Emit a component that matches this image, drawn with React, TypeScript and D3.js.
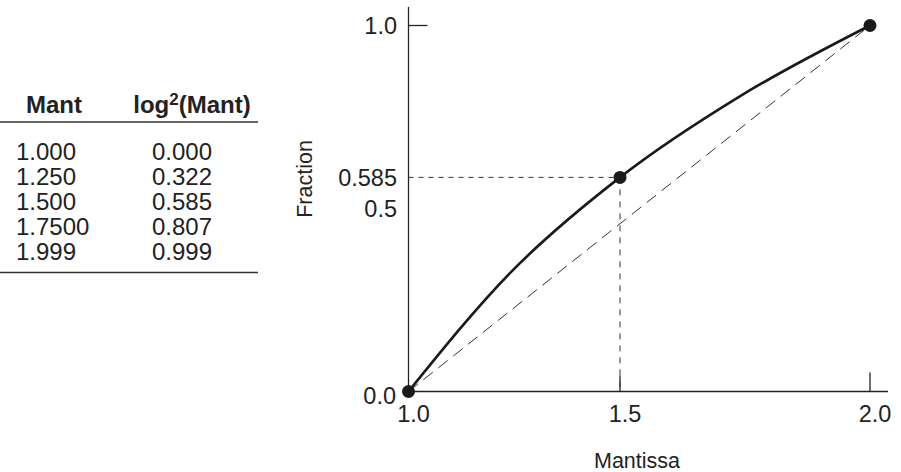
import React from "react";
import * as d3 from "d3";

const mantValues = [1.0, 1.25, 1.5, 1.75, 1.999];
const mantLabels = ["1.000", "1.250", "1.500", "1.7500", "1.999"];
const logValues = [0.0, 0.322, 0.585, 0.807, 0.999];
const logLabels = ["0.000", "0.322", "0.585", "0.807", "0.999"];
const tableHeaders = ["Mant", "log", "2", "(Mant)"];

const dotX = [1.0, 1.5, 2.0];
const dotY = [0.0, 0.585, 1.0];

const xTicks = [1.0, 1.5, 2.0];
const xTickLabels = ["1.0", "1.5", "2.0"];
const yTicks = [0.0, 0.5, 0.585, 1.0];
const yTickLabels = ["0.0", "0.5", "0.585", "1.0"];

const xTitle = "Mantissa";
const yTitle = "Fraction";

const FONT = "'Liberation Sans', Arial, Helvetica, sans-serif";

export default function App() {
  const W = 901;
  const H = 472;
  // base linear scale, with a smooth warp (the drawing's x-axis is slightly non-linear)
  const xBase = d3.scaleLinear().domain([1.0, 2.0]).range([408.5, 870]);
  const warpK = 0.1668;
  const x = (m: number) => xBase(m + warpK * (m - 1) * (m - 2));
  const y = d3.scaleLinear().domain([0, 1]).range([391.5, 25.5]);

  const curvePts: [number, number][] = mantValues.map((m, i) => [
    x(m),
    y(logValues[i]),
  ]);
  curvePts[curvePts.length - 1] = [x(dotX[2]), y(dotY[2])];
  const line = d3.line().curve(d3.curveMonotoneX);
  const curvePath = line(curvePts) || "";

  const xAxisY = y(0);
  const yAxisX = x(1.0);
  const tickFont = 23.5;
  const tableFont = 24;

  return (
    <svg
      width={W}
      height={H}
      style={{ position: "absolute", left: 0, top: 0, background: "#fff" }}
      fontFamily={FONT}
    >
      {/* Table */}
      <g>
        <text x={54} y={113} fontSize={tableFont} fontWeight="bold" textAnchor="middle" fill="#222">
          {tableHeaders[0]}
        </text>
        <text x={192} y={113} fontSize={tableFont} fontWeight="bold" textAnchor="middle" fill="#222">
          {tableHeaders[1]}
          <tspan fontSize={17} dy={-8}>{tableHeaders[2]}</tspan>
          <tspan dy={8}>{tableHeaders[3]}</tspan>
        </text>
        <line x1={0} x2={258} y1={122} y2={122} stroke="#333" strokeWidth={1.6} />
        {mantLabels.map((m, i) => (
          <text key={"m" + i} x={16} y={160 + i * 25} fontSize={tableFont} fill="#222">
            {m}
          </text>
        ))}
        {logLabels.map((l, i) => (
          <text key={"l" + i} x={182} y={160 + i * 25} fontSize={tableFont} textAnchor="middle" fill="#222">
            {l}
          </text>
        ))}
        <line x1={0} x2={258} y1={272.5} y2={272.5} stroke="#333" strokeWidth={1.6} />
      </g>

      {/* Axes */}
      <line x1={yAxisX} x2={yAxisX} y1={7} y2={xAxisY} stroke="#222" strokeWidth={1.3} />
      <line x1={yAxisX} x2={888} y1={xAxisY} y2={xAxisY} stroke="#222" strokeWidth={1.3} />
      <line x1={yAxisX} x2={yAxisX + 19} y1={y(1)} y2={y(1)} stroke="#222" strokeWidth={1.3} />
      {xTicks.slice(1).map((t, i) => (
        <line key={"xt" + i} x1={x(t)} x2={x(t)} y1={xAxisY} y2={xAxisY - (i === 0 ? 16 : 19)} stroke="#222" strokeWidth={1.3} />
      ))}

      {/* reference lines */}
      <line
        x1={yAxisX}
        x2={x(dotX[1])}
        y1={y(dotY[1])}
        y2={y(dotY[1])}
        stroke="#333"
        strokeWidth={1}
        strokeDasharray="5,5"
      />
      <line
        x1={x(dotX[1])}
        x2={x(dotX[1])}
        y1={y(dotY[1])}
        y2={xAxisY}
        stroke="#333"
        strokeWidth={1}
        strokeDasharray="6,6"
      />
      <line
        x1={x(dotX[0])}
        y1={y(dotY[0])}
        x2={x(dotX[2])}
        y2={y(dotY[2])}
        stroke="#333"
        strokeWidth={1}
        strokeDasharray="12,7"
      />

      {/* curve */}
      <path d={curvePath} fill="none" stroke="#1a1a1a" strokeWidth={2.6} />

      {/* dots */}
      {dotX.map((d, i) => (
        <circle key={"d" + i} cx={x(d)} cy={y(dotY[i])} r={6.5} fill="#1a1a1a" />
      ))}

      {/* y tick labels */}
      {yTicks.map((t, i) => (
        <text
          key={"yl" + i}
          x={t === 0 ? 396 : 397}
          y={y(t) + (t === 0 ? 12 : t === 0.585 ? 9 : 8.5)}
          fontSize={tickFont}
          textAnchor="end"
          fill="#222"
        >
          {yTickLabels[i]}
        </text>
      ))}

      {/* x tick labels */}
      {xTicks.map((t, i) => (
        <text key={"xl" + i} x={x(t) + 5} y={421.5} fontSize={tickFont} textAnchor="middle" fill="#222">
          {xTickLabels[i]}
        </text>
      ))}

      {/* titles */}
      <text x={637} y={468} fontSize={21.5} textAnchor="middle" fill="#222">
        {xTitle}
      </text>
      <text
        transform={`translate(312,179) rotate(-90)`}
        fontSize={21.5}
        textAnchor="middle"
        fill="#222"
      >
        {yTitle}
      </text>
    </svg>
  );
}
